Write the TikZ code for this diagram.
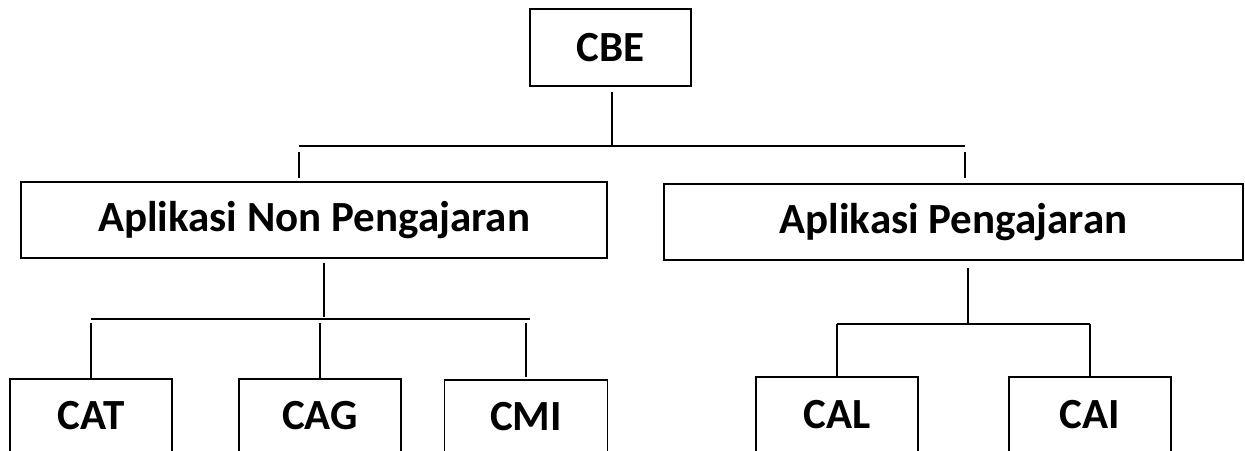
\documentclass[tikz,border=0pt]{standalone}
\usepackage{fontspec}
\setmainfont{Carlito}
\begin{document}
\begin{tikzpicture}[x=1pt,y=-1pt,
  box/.style={draw,line width=1.7pt,inner sep=0pt,font=\fontsize{43}{50}\selectfont\bfseries},
  conn/.style={line width=1.3pt}]
\useasboundingbox (0,0) rectangle (1245,450);
\clip (0,0) rectangle (1245,450);
\node[box,minimum width=161pt,minimum height=77pt] (cbe) at (610.5,47.5) {CBE};
\node[box,minimum width=586pt,minimum height=76pt] (anp) at (314,220) {\raisebox{-2.5pt}{Aplikasi Non Pengajaran}};
\node[box,minimum width=579pt,minimum height=76pt] (ap) at (953.5,222) {\raisebox{-2.5pt}{Aplikasi Pengajaran}};
\node[box,minimum width=162pt,minimum height=74pt] (cat) at (91,416) {CAT};
\node[box,minimum width=162pt,minimum height=74pt] (cag) at (320,416) {CAG};
\node[box,minimum width=163pt,minimum height=74pt] (cmi) at (526,417) {CMI};
\node[box,minimum width=162pt,minimum height=76pt] (cal) at (837,415) {CAL};
\node[box,minimum width=162pt,minimum height=76pt] (cai) at (1090,415) {CAI};
% level 1
\coordinate (j1) at (612,146);
\coordinate (b1l) at (299,146);
\coordinate (b1r) at (965,146);
\draw[conn,shorten <=5pt] (cbe.south -| j1) -- (j1);
\draw[conn] (b1l) -- (b1r);
\draw[conn,shorten <=6pt,shorten >=3pt] (b1l) -- (b1l |- anp.north);
\draw[conn,shorten <=6pt,shorten >=5pt] (b1r) -- (b1r |- ap.north);
% level 2 left
\coordinate (j2) at (324,319);
\coordinate (b2l) at (91,319);
\coordinate (b2r) at (530,319);
\draw[conn,shorten <=4pt,shorten >=2pt] (anp.south -| j2) -- (j2);
\draw[conn] (b2l) -- (b2r);
\draw[conn,shorten <=4pt] (cat.north |- b2l) -- (cat.north);
\draw[conn,shorten <=4pt] (cag.north |- b2l) -- (cag.north);
\draw[conn,shorten <=4pt,shorten >=2pt] (cmi.north |- b2l) -- (cmi.north);
% level 2 right
\coordinate (j3) at (968,324);
\coordinate (b3l) at (837,324);
\coordinate (b3r) at (1090,324);
\draw[conn,shorten <=7pt] (ap.south -| j3) -- (j3);
\draw[conn] (b3l) -- (b3r);
\draw[conn] (cal.north |- b3l) -- (cal.north);
\draw[conn] (cai.north |- b3l) -- (cai.north);
\end{tikzpicture}
\end{document}
